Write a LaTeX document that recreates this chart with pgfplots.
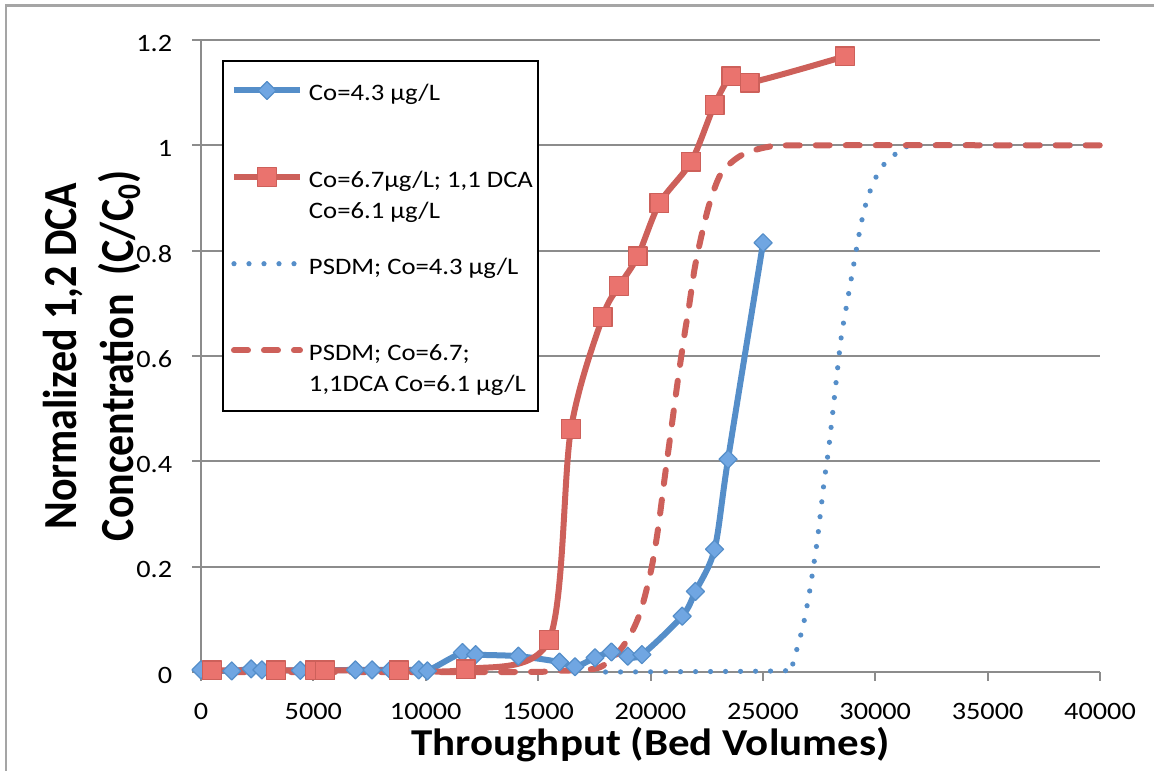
\documentclass[border=0pt]{standalone}
\usepackage{fontspec}
\setmainfont{Carlito}[FakeStretch=1.13]
\newfontfamily\ylabfont{Carlito}
\usepackage{graphicx}
\usepackage{pgfplots}
\pgfplotsset{compat=1.18}
\definecolor{lblue}{RGB}{85,142,201}
\definecolor{lbluefill}{RGB}{112,166,226}
\definecolor{lred}{RGB}{205,96,90}
\definecolor{lredfill}{RGB}{234,115,110}
\definecolor{axgray}{RGB}{140,140,140}
\definecolor{bordergray}{RGB}{165,165,165}
\begin{document}
\begin{tikzpicture}
\useasboundingbox (-100.5bp,-49.5bp) rectangle (476.5bp,336bp);
\draw[bordergray, line width=1.1bp] (-97.5bp,-60bp) -- (-97.5bp,333.25bp) -- (490bp,333.25bp);
\begin{axis}[
  at={(0,0)}, anchor=south west,
  width=449.5bp, height=316bp, scale only axis,
  xmin=0, xmax=40000, ymin=0, ymax=1.2,
  clip=false,
  scaled x ticks=false, scaled y ticks=false,
  axis x line*=bottom, axis y line*=left,
  axis line style={axgray, line width=1bp},
  xtick={0,5000,10000,15000,20000,25000,30000,35000,40000},
  xticklabels={0,5000,10000,15000,20000,25000,30000,35000,40000},
  ytick={0,0.2,0.4,0.6,0.8,1,1.2},
  yticklabels={0,0.2,0.4,0.6,0.8,1,1.2},
  tick align=outside,
  major tick length=4.25bp,
  tick style={axgray, line width=1bp},
  ymajorgrids,
  major grid style={axgray, line width=1bp},
  tick label style={font=\fontsize{12.5bp}{15bp}\selectfont, text=black},
  xticklabel style={anchor=north, inner sep=0pt, yshift=-11bp},
  yticklabel style={anchor=east, inner sep=0pt, xshift=-10bp, yshift=-1.5bp},
  xlabel={Throughput (Bed Volumes)},
  xlabel style={at={(axis description cs:0.5,0)}, anchor=base, yshift=-41.5bp, inner sep=0pt, font=\fontsize{19bp}{23bp}\selectfont\bfseries},
  ylabel={\scalebox{1}[1.13]{\ylabfont\bfseries\fontsize{21bp}{24bp}\selectfont\begin{tabular}[b]{@{}c@{}}Normalized 1,2 DCA\\[0.8bp]Concentration\ \ (C/C\textsubscript{0})\end{tabular}}},
  ylabel style={at={(axis description cs:-0.0756,0.5)}, anchor=base, inner sep=0pt},
  legend image code/.code={\draw[mark repeat=2,mark phase=2,#1] plot coordinates {(0bp,5.25bp) (16.5bp,5.25bp) (33bp,5.25bp)};},
  legend style={
    at={(axis description cs:0,1)}, anchor=north west, xshift=10.5bp, yshift=-10bp,
    draw=black, line width=1bp, fill=white,
    inner xsep=4bp, inner ysep=5bp,
    row sep=8.3bp, column sep=3bp,
    font=\fontsize{11.8bp}{15.4bp}\selectfont,
    cells={anchor=base west},
    nodes={inner sep=0pt, text height=15bp, text depth=20bp},
  },
]
\addplot[color=lblue, line width=3bp, line join=round, smooth,
  mark=square*, mark size=3.2bp,
  mark options={rotate=45, fill=lbluefill, draw=lblue, line width=0.6bp, solid}]
  coordinates {(0,0.004)(1370,0.002)(2230,0.006)(2710,0.004)(4420,0.003)(5100,0.003)(6870,0.004)(7610,0.004)(8430,0.004)(9690,0.004)(10070,0.002)(11630,0.037)(12220,0.033)(14120,0.030)(15950,0.019)(16640,0.010)(17530,0.027)(18260,0.038)(18990,0.030)(19620,0.033)(21410,0.106)(22000,0.153)(22850,0.233)(23450,0.404)(25010,0.815)};
\addlegendentry{\makebox[110.5bp][l]{Co=4.3 µg/L}}
\addplot[color=lred, line width=3bp, line join=round, smooth,
  mark=square*, mark size=4.7bp,
  mark options={fill=lredfill, draw=lred, line width=0.6bp, solid}]
  coordinates {(477,0.003)(3345,0.003)(5085,0.003)(5530,0.003)(8800,0.003)(11775,0.005)(15490,0.061)(16460,0.461)(17870,0.674)(18610,0.733)(19430,0.789)(20400,0.890)(21810,0.969)(22850,1.077)(23600,1.131)(24410,1.119)(28650,1.169)};
\addlegendentry{\makebox[110.5bp][l]{{\begin{tabular}[t]{@{}l@{}}Co=6.7µg/L; 1,1 DCA\\Co=6.1 µg/L\end{tabular}}}}
\addplot[color=lblue, line width=2.6bp, line cap=round, dash pattern=on 0bp off 7.5bp, smooth, mark=none]
  coordinates {(18000,0)(25650,0.002)(26240,0.008)(26450,0.034)(26790,0.088)(27040,0.143)(27240,0.197)(27430,0.253)(27580,0.308)(27730,0.363)(27910,0.418)(28060,0.474)(28130,0.501)(28350,0.586)(28500,0.640)(28720,0.695)(28950,0.751)(29170,0.805)(29390,0.855)(29590,0.890)(29760,0.912)(30060,0.942)(30410,0.965)(30850,0.982)(31400,0.995)(32100,1.0)(40000,1.0)};
\addlegendentry{\makebox[110.5bp][l]{PSDM; Co=4.3 µg/L}}
\addplot[color=lred, line width=3bp, line cap=round, dash pattern=on 7bp off 8bp, smooth, mark=none]
  coordinates {(0,0)(14000,0)(15560,0.002)(17040,0.004)(17800,0.010)(18540,0.036)(19135,0.073)(19580,0.118)(20030,0.194)(20330,0.270)(20620,0.365)(20920,0.460)(21220,0.555)(21510,0.640)(21700,0.690)(21960,0.765)(22260,0.827)(22630,0.890)(23150,0.947)(24040,0.981)(25230,0.997)(26730,1.0)(40000,1.0)};
\addlegendentry{\makebox[110.5bp][l]{{\begin{tabular}[t]{@{}l@{}}PSDM; Co=6.7;\\1,1DCA Co=6.1 µg/L\end{tabular}}}}
\end{axis}
\end{tikzpicture}
\end{document}
